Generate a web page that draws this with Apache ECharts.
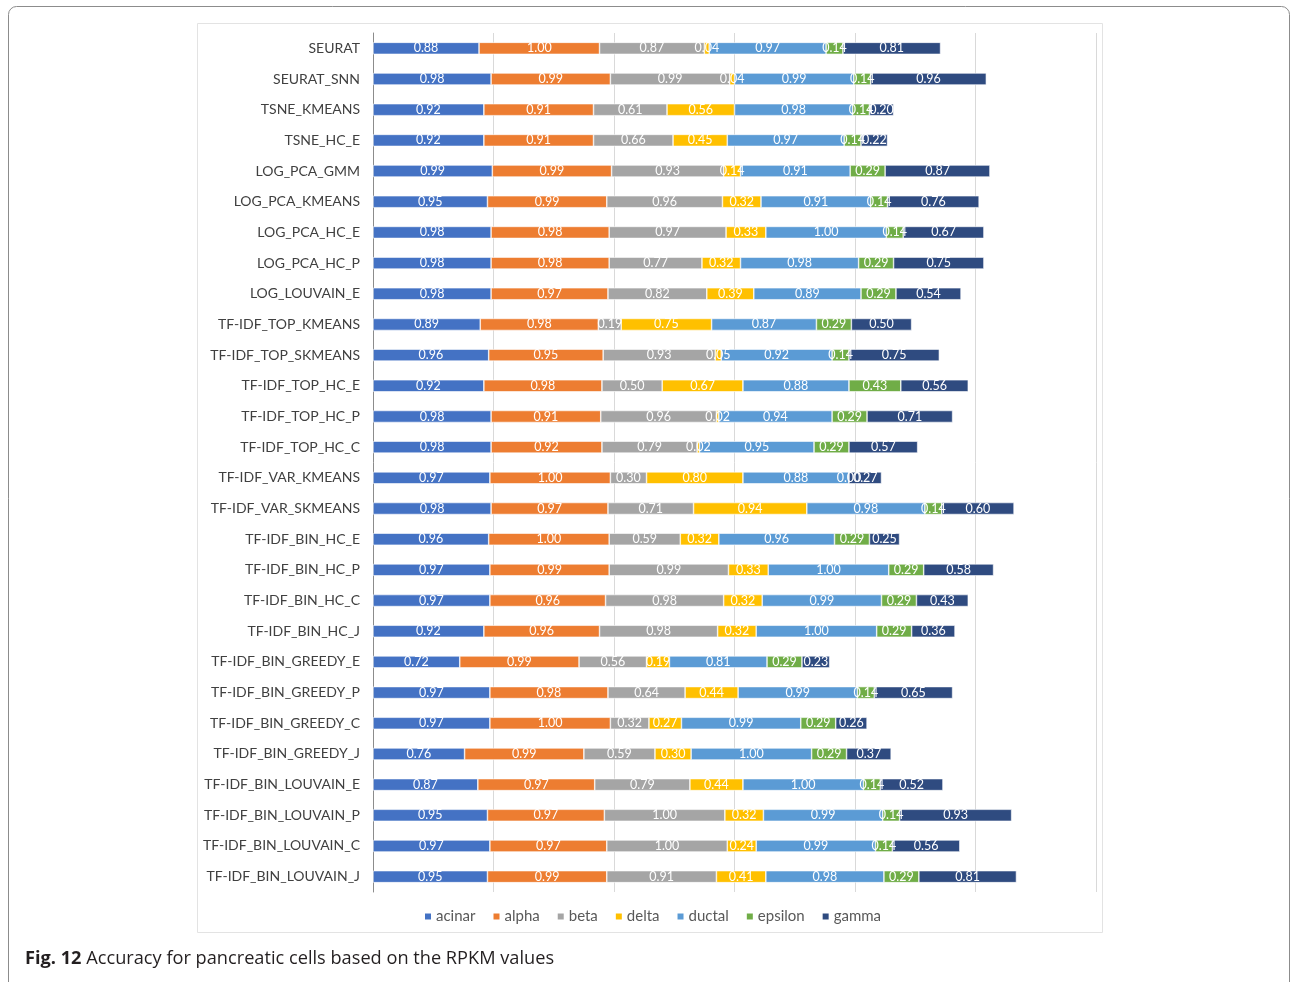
<!DOCTYPE html>
<html>
<head>
<meta charset="utf-8">
<script src="https://cdn.jsdelivr.net/npm/echarts@6/dist/echarts.min.js"></script>
<style>
html,body{margin:0;padding:0;background:#fff;}
#c{width:1292px;height:982px;}
</style>
</head>
<body>
<div id="c"></div>
<script>
const categories = ["SEURAT","SEURAT_SNN","TSNE_KMEANS","TSNE_HC_E","LOG_PCA_GMM","LOG_PCA_KMEANS","LOG_PCA_HC_E","LOG_PCA_HC_P","LOG_LOUVAIN_E","TF-IDF_TOP_KMEANS","TF-IDF_TOP_SKMEANS","TF-IDF_TOP_HC_E","TF-IDF_TOP_HC_P","TF-IDF_TOP_HC_C","TF-IDF_VAR_KMEANS","TF-IDF_VAR_SKMEANS","TF-IDF_BIN_HC_E","TF-IDF_BIN_HC_P","TF-IDF_BIN_HC_C","TF-IDF_BIN_HC_J","TF-IDF_BIN_GREEDY_E","TF-IDF_BIN_GREEDY_P","TF-IDF_BIN_GREEDY_C","TF-IDF_BIN_GREEDY_J","TF-IDF_BIN_LOUVAIN_E","TF-IDF_BIN_LOUVAIN_P","TF-IDF_BIN_LOUVAIN_C","TF-IDF_BIN_LOUVAIN_J"];
const seriesNames = ["acinar","alpha","beta","delta","ductal","epsilon","gamma"];
const acinar  = [0.88,0.98,0.92,0.92,0.99,0.95,0.98,0.98,0.98,0.89,0.96,0.92,0.98,0.98,0.97,0.98,0.96,0.97,0.97,0.92,0.72,0.97,0.97,0.76,0.87,0.95,0.97,0.95];
const alpha   = [1.00,0.99,0.91,0.91,0.99,0.99,0.98,0.98,0.97,0.98,0.95,0.98,0.91,0.92,1.00,0.97,1.00,0.99,0.96,0.96,0.99,0.98,1.00,0.99,0.97,0.97,0.97,0.99];
const beta    = [0.87,0.99,0.61,0.66,0.93,0.96,0.97,0.77,0.82,0.19,0.93,0.50,0.96,0.79,0.30,0.71,0.59,0.99,0.98,0.98,0.56,0.64,0.32,0.59,0.79,1.00,1.00,0.91];
const delta   = [0.04,0.04,0.56,0.45,0.14,0.32,0.33,0.32,0.39,0.75,0.05,0.67,0.02,0.02,0.80,0.94,0.32,0.33,0.32,0.32,0.19,0.44,0.27,0.30,0.44,0.32,0.24,0.41];
const ductal  = [0.97,0.99,0.98,0.97,0.91,0.91,1.00,0.98,0.89,0.87,0.92,0.88,0.94,0.95,0.88,0.98,0.96,1.00,0.99,1.00,0.81,0.99,0.99,1.00,1.00,0.99,0.99,0.98];
const epsilon = [0.14,0.14,0.14,0.14,0.29,0.14,0.14,0.29,0.29,0.29,0.14,0.43,0.29,0.29,0.00,0.14,0.29,0.29,0.29,0.29,0.29,0.14,0.29,0.29,0.14,0.14,0.14,0.29];
const gamma   = [0.81,0.96,0.20,0.22,0.87,0.76,0.67,0.75,0.54,0.50,0.75,0.56,0.71,0.57,0.27,0.60,0.25,0.58,0.43,0.36,0.23,0.65,0.26,0.37,0.52,0.93,0.56,0.81];
const xTicks = [0,1,2,3,4,5,6];

const seriesData = [acinar,alpha,beta,delta,ductal,epsilon,gamma];
const colors = ["#4472C4","#ED7D31","#A5A5A5","#FFC000","#5B9BD5","#70AD47","#2F4B80"];

const chart = echarts.init(document.getElementById('c'), null, {renderer:'canvas'});
const option = {
  animation:false,
  backgroundColor:'#fff',
  color: colors,
  graphic:[
    {type:'rect', shape:{x:8.5,y:6.5,width:1281,height:990,r:8}, style:{fill:'none',stroke:'#8c8c8c',lineWidth:1}, z:-10},
    {type:'rect', shape:{x:197.5,y:23.5,width:905,height:909}, style:{fill:'#fff',stroke:'#e3e3e3',lineWidth:1}, z:-9}
  ],
  title:{
    text:'{b|Fig. 12} Accuracy for pancreatic cells based on the RPKM values',
    left:20, top:945,
    textStyle:{
      fontFamily:'Open Sans', fontSize:18.2, fontWeight:'normal', color:'#231f20',
      rich:{ b:{fontFamily:'Open Sans', fontSize:18.2, fontWeight:'bold', color:'#231f20'} }
    }
  },
  legend:{
    data: seriesNames,
    top:904, left:418,
    icon:'rect', itemWidth:8, itemHeight:8, itemGap:16,
    textStyle:{fontFamily:'Lato', fontSize:15, color:'#595959', padding:[0,0,0,-1]}
  },
  grid:{left:373, right:196, top:33, bottom:90, containLabel:false},
  xAxis:{
    type:'value', min:xTicks[0], max:xTicks[xTicks.length-1], interval:1,
    axisLabel:{show:false}, axisLine:{show:false}, axisTick:{show:false},
    splitLine:{show:true, lineStyle:{color:'#d9d9d9', width:1}}
  },
  yAxis:{
    type:'category', data:categories, inverse:true,
    axisLine:{show:true, lineStyle:{color:'#8c8c8c', width:1}},
    axisTick:{show:false},
    axisLabel:{fontFamily:'Lato', fontSize:14, color:'#404040', margin:13}
  },
  series: seriesNames.map((n,i)=>({
    name:n, type:'bar', stack:'total', data:seriesData[i], barWidth:12,
    itemStyle:{color:colors[i], borderColor:'#ffffff', borderWidth:0.6},
    label:{show:true, position:'inside', formatter:(p)=>p.value.toFixed(2), color:'#ffffff', fontFamily:'Lato', fontSize:12.5},
    labelLayout:{hideOverlap:false}
  }))
};
chart.setOption(option);
</script>
</body>
</html>
